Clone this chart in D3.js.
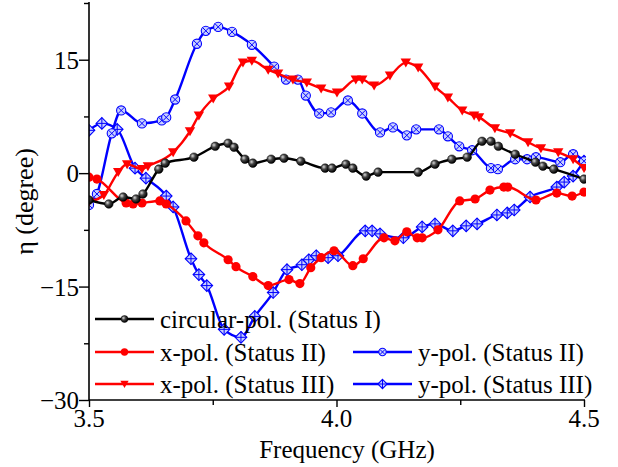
<!DOCTYPE html>
<html><head><meta charset="utf-8">
<script src="https://cdn.jsdelivr.net/npm/d3@7"></script>
</head>
<body style="margin:0;background:#fff">
<svg id="c" width="618" height="467"></svg>
<script>
// ---- data ----
const circFreq = [3.500,3.540,3.569,3.595,3.609,3.641,3.654,3.712,3.755,3.781,3.793,3.815,3.831,3.868,3.894,3.928,3.977,3.991,4.019,4.033,4.060,4.084,4.165,4.199,4.233,4.264,4.294,4.312,4.327,4.361,4.402,4.417,4.439,4.500];
const circVal  = [-3.55,-4.08,-3.16,-3.42,-2.76,0.53,1.32,2.11,3.55,3.95,3.42,1.84,1.32,1.84,1.97,1.58,0.66,0.66,1.18,0.66,-0.39,0.13,0.13,1.18,1.84,2.11,4.21,4.21,3.55,2.50,1.45,0.92,0.53,-0.79];

const xpol2Freq = [3.500,3.516,3.575,3.589,3.607,3.643,3.656,3.696,3.720,3.732,3.781,3.797,3.831,3.862,3.904,3.926,3.948,3.969,3.995,4.033,4.054,4.096,4.118,4.142,4.163,4.173,4.205,4.249,4.280,4.310,4.338,4.346,4.403,4.445,4.476,4.500];
const xpol2Val  = [-0.53,-0.79,-3.95,-4.08,-3.95,-3.68,-4.08,-6.32,-8.29,-9.21,-11.45,-12.37,-13.68,-14.87,-14.08,-14.61,-12.50,-11.18,-10.26,-12.24,-11.32,-8.55,-8.95,-7.76,-8.55,-8.55,-7.50,-3.68,-3.42,-2.24,-1.84,-1.84,-3.55,-2.63,-3.03,-2.50];

const xpol3Freq = [3.500,3.530,3.559,3.577,3.607,3.619,3.670,3.704,3.722,3.751,3.783,3.811,3.829,3.862,3.882,3.912,3.940,3.969,4.001,4.039,4.052,4.076,4.108,4.140,4.165,4.199,4.225,4.254,4.278,4.288,4.320,4.351,4.387,4.413,4.448,4.478,4.500];
const xpol3Val  = [-3.80,-2.89,0.13,1.18,0.53,0.92,2.76,5.53,7.63,9.87,11.45,14.61,14.87,13.68,13.16,12.37,11.97,11.18,10.66,12.37,12.37,11.58,12.89,14.61,13.95,11.45,10.00,8.29,7.63,7.37,5.92,5.26,4.08,3.29,2.76,1.84,0.66];

const ypol2Freq = [3.500,3.516,3.546,3.565,3.607,3.647,3.656,3.674,3.718,3.736,3.761,3.789,3.829,3.874,3.898,3.922,3.938,3.965,3.989,4.023,4.052,4.088,4.114,4.142,4.161,4.207,4.225,4.248,4.274,4.312,4.326,4.361,4.385,4.403,4.452,4.478,4.500];
const ypol2Val  = [-4.21,-2.76,5.26,8.29,6.58,6.97,7.37,9.74,17.11,18.82,19.34,18.68,16.97,14.08,12.37,12.37,10.26,7.89,8.03,9.61,7.89,5.39,6.05,5.00,5.79,5.79,4.87,3.55,3.03,0.66,0.53,1.84,1.84,2.11,1.45,2.50,1.58];

const ypol3Freq = [3.500,3.526,3.557,3.593,3.615,3.656,3.670,3.706,3.722,3.738,3.773,3.807,3.835,3.872,3.900,3.930,3.944,3.959,3.983,4.003,4.058,4.072,4.088,4.135,4.173,4.199,4.235,4.262,4.284,4.324,4.345,4.359,4.391,4.445,4.460,4.478,4.500];
const ypol3Val  = [5.66,6.58,5.79,0.66,-0.66,-3.03,-4.47,-11.32,-13.42,-14.87,-20.66,-21.71,-18.95,-15.79,-12.76,-12.11,-11.45,-10.92,-11.18,-10.92,-7.63,-7.63,-8.03,-8.55,-7.11,-6.71,-7.63,-6.97,-6.71,-5.53,-5.26,-4.87,-3.16,-1.84,-1.18,-0.39,1.58];

const seriesNames = ["circular-pol. (Status I)","x-pol. (Status II)","x-pol. (Status III)","y-pol. (Status II)","y-pol. (Status III)"];
const xTickMajor = [3.5,4.0,4.5];
const xTickMinor = [3.75,4.25];
const yTickMajor = [-30,-15,0,15];
const yTickMinor = [-22.5,-7.5,7.5,22.5];
const xLabel = "Frequency (GHz)";
const yLabel = "η (degree)";

// ---- drawing ----
const FONT = '"Times New Roman"';
const svg = d3.select("#c");
const L = 89, R = 584, T = 3, B = 400;
const x = d3.scaleLinear().domain([3.5,4.5]).range([L,R]);
const y = d3.scaleLinear().domain([-30,22.5]).range([B,T]);

const defs = svg.append("defs");
defs.append("clipPath").attr("id","clip").append("rect")
  .attr("x",L).attr("y",0).attr("width",R-L+2).attr("height",B+2);
const grad = defs.append("radialGradient").attr("id","sphere")
  .attr("cx","35%").attr("cy","35%").attr("r","65%");
grad.append("stop").attr("offset","0%").attr("stop-color","#d8d8d8");
grad.append("stop").attr("offset","45%").attr("stop-color","#444");
grad.append("stop").attr("offset","100%").attr("stop-color","#000");

const BLUE = "#0000ff", RED = "#ff0000";

function marker(g, type, s){
  s = s || 1;
  if(type==="sphere"){
    g.append("circle").attr("r",4.3*s).attr("fill","url(#sphere)").attr("stroke","#000").attr("stroke-width",0.5);
  } else if(type==="dot"){
    g.append("circle").attr("r",4.6*s).attr("fill",RED);
  } else if(type==="tri"){
    const w=5.2*s, h=9*s;
    g.append("path").attr("d",`M${-w},${-h*0.45}L${w},${-h*0.45}L0,${h*0.55}Z`).attr("fill",RED);
  } else if(type==="cx"){
    const r=4.6*s, d=r*0.7;
    g.append("circle").attr("r",r).attr("fill","#c8d0ff").attr("stroke",BLUE).attr("stroke-width",1.1);
    g.append("path").attr("d",`M${-d},${-d}L${d},${d}M${-d},${d}L${d},${-d}`).attr("stroke",BLUE).attr("stroke-width",1);
  } else if(type==="dp"){
    const r=5.8*s;
    g.append("path").attr("d",`M0,${-r}L${r},0L0,${r}L${-r},0Z`).attr("fill","#c8d0ff").attr("stroke",BLUE).attr("stroke-width",1.1);
    g.append("path").attr("d",`M0,${-r}L0,${r}M${-r},0L${r},0`).attr("stroke",BLUE).attr("stroke-width",1);
  }
}

const series = [
  {f:circFreq, v:circVal, color:"#000", m:"sphere"},
  {f:xpol2Freq, v:xpol2Val, color:RED, m:"dot"},
  {f:xpol3Freq, v:xpol3Val, color:RED, m:"tri"},
  {f:ypol2Freq, v:ypol2Val, color:BLUE, m:"cx"},
  {f:ypol3Freq, v:ypol3Val, color:BLUE, m:"dp"}
];

const plot = svg.append("g").attr("clip-path","url(#clip)");
const line = d3.line().x(d=>x(d[0])).y(d=>y(d[1])).curve(d3.curveMonotoneX);
[4,3,2,1,0].forEach(i=>{
  const s = series[i];
  const pts = s.f.map((f,k)=>[f,s.v[k]]);
  plot.append("path").datum(pts).attr("d",line).attr("fill","none")
    .attr("stroke",s.color).attr("stroke-width",2.4).attr("stroke-linejoin","round");
  plot.append("g").selectAll("g").data(pts).join("g")
    .attr("transform",d=>`translate(${x(d[0])},${y(d[1])})`)
    .each(function(){ marker(d3.select(this), s.m); });
});

// axes (ticks via d3 axes, labels as plain text)
const gx = svg.append("g").attr("transform",`translate(0,${B})`)
  .call(d3.axisBottom(x).tickValues(xTickMajor).tickSize(7).tickFormat(""));
svg.append("g").attr("transform",`translate(0,${B})`)
  .call(d3.axisBottom(x).tickValues(xTickMinor).tickSize(5).tickFormat(""))
  .call(g=>g.select(".domain").remove());
const gy = svg.append("g").attr("transform",`translate(${L},0)`)
  .call(d3.axisLeft(y).tickValues(yTickMajor).tickSize(10).tickFormat(""));
svg.append("g").attr("transform",`translate(${L},0)`)
  .call(d3.axisLeft(y).tickValues(yTickMinor).tickSize(5).tickFormat(""))
  .call(g=>g.select(".domain").remove());
svg.selectAll(".tick text").remove();
[gx,gy].forEach(g=>{
  g.select(".domain").attr("stroke","#000").attr("stroke-width",1.6);
});
svg.selectAll(".tick line").attr("stroke","#000").attr("stroke-width",1.4);
gx.select(".domain").attr("d",`M${L},0H${R+1}`);
gy.select(".domain").attr("d",`M0,${T-1}V${B}`);

xTickMajor.forEach(v=>{
  svg.append("text").attr("x",x(v)).attr("y",427).attr("text-anchor","middle")
    .attr("font-size",25).style("font-family",FONT).text(d3.format(".1f")(v));
});
yTickMajor.forEach(v=>{
  svg.append("text").attr("x",L-10).attr("y",y(v)+9).attr("text-anchor","end")
    .attr("font-size",25).style("font-family",FONT).text(String(v).replace("-","\u2212"));
});

svg.append("text").attr("x",347).attr("y",458).attr("text-anchor","middle")
  .attr("font-size",25).style("font-family",FONT).text(xLabel);
svg.append("text").attr("transform",`translate(33,${(T+B)/2}) rotate(-90)`).attr("text-anchor","middle")
  .attr("font-size",26).style("font-family",FONT).text(yLabel);

// legend
const leg = [
  {i:0, x:95, y:319},
  {i:1, x:95, y:352},
  {i:2, x:95, y:384},
  {i:3, x:353, y:352},
  {i:4, x:353, y:384}
];
leg.forEach(l=>{
  const s = series[l.i];
  const g = svg.append("g").attr("transform",`translate(${l.x},${l.y})`);
  g.append("line").attr("x1",0).attr("x2",59).attr("stroke",s.color).attr("stroke-width",2.4);
  const mg = g.append("g").attr("transform","translate(29.5,0)");
  marker(mg, s.m, 0.8);
  svg.append("text").attr("x",l.x+65).attr("y",l.y+9).attr("font-size",25)
    .style("font-family",FONT).text(seriesNames[l.i]);
});
</script>
</body></html>
